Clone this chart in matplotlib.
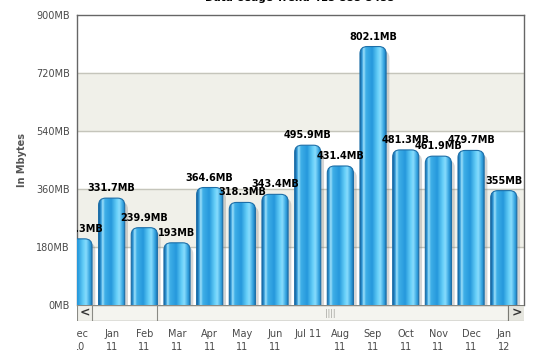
import matplotlib
matplotlib.use('Agg')
import matplotlib.pyplot as plt
import numpy as np
from matplotlib.patches import FancyBboxPatch, Rectangle
from matplotlib.colors import LinearSegmentedColormap
from matplotlib.transforms import Bbox, TransformedBbox

# Data
months = ["Dec\n10", "Jan\n11", "Feb\n11", "Mar\n11", "Apr\n11", "May\n11", "Jun\n11",
          "Jul 11", "Aug\n11", "Sep\n11", "Oct\n11", "Nov\n11", "Dec\n11", "Jan\n12"]
usage_mb = [205.3, 331.7, 239.9, 193, 364.6, 318.3, 343.4,
            495.9, 431.4, 802.1, 481.3, 461.9, 479.7, 355]
y_ticks = [0, 180, 360, 540, 720, 900]

title = "Data Usage Trend 415-555-5455"
text_gray = '#4a4a4a'

plt.rcParams['font.family'] = ['DejaVu Sans']

fig = plt.figure(figsize=(5.52, 3.51), dpi=100)
W, H = 552, 351
L, R, T, B = 77, 524, 15, 305
ax = fig.add_axes([L / W, 1 - B / H, (R - L) / W, (B - T) / H])

x = np.arange(len(months))
XLIM = (-0.06, len(months) - 1 + 0.62)
ax.set_xlim(*XLIM)
ax.set_ylim(0, 900)

# alternating bands
for i in range(len(y_ticks) - 1):
    if i % 2 == 1:
        ax.axhspan(y_ticks[i], y_ticks[i + 1], color='#f0f0e9', zorder=0)
for v in y_ticks[1:-1]:
    ax.axhline(v, color='#c5c5bb', lw=1, zorder=1)

# bars: geometry from ax.bar, rendered as glossy rounded cylinders
bars = ax.bar(x, usage_mb, width=0.8, color='none', edgecolor='none', zorder=2)

grad = LinearSegmentedColormap.from_list('glossy', [
    (0.0, '#1868a4'), (0.07, '#2f98d8'), (0.13, '#a4e4fc'), (0.21, '#40b0e8'),
    (0.45, '#2598dc'), (0.66, '#66cff8'), (0.76, '#88dcfd'), (0.9, '#30a0de'),
    (1.0, '#1a70ab')])
gradient = np.linspace(0, 1, 64).reshape(1, -1)

px_per_x = (R - L) / (XLIM[1] - XLIM[0])
px_per_y = (B - T) / 900.0
aspect = px_per_x / px_per_y

for bar in bars:
    x0, w, h = bar.get_x(), bar.get_width(), bar.get_height()
    # soft shadow to the right
    shadow = FancyBboxPatch((x0 + 0.1, -60), w, h + 60 - 4 / px_per_y,
                            boxstyle="round,pad=0,rounding_size=0.22",
                            mutation_aspect=aspect, facecolor='#777777',
                            edgecolor='none', alpha=0.3, zorder=2)
    ax.add_patch(shadow)
    shape = FancyBboxPatch((x0, -60), w, h + 60,
                           boxstyle="round,pad=0,rounding_size=0.22",
                           mutation_aspect=aspect, facecolor='none',
                           edgecolor='#1d6fa8', lw=0.8, zorder=4)
    ax.add_patch(shape)
    im = ax.imshow(gradient, cmap=grad, aspect='auto', extent=[x0, x0 + w, -60, h],
                   zorder=3, interpolation='bilinear')
    im.set_clip_path(shape)

ax.set_xlim(*XLIM)
ax.set_ylim(0, 900)

# value labels
for xi, v in zip(x, usage_mb):
    ax.text(xi, v + 5 / px_per_y, f"{v:g}MB", ha='center', va='bottom',
            fontsize=7, fontweight='bold', color='black', zorder=6, clip_on=True)

# axes styling
for s in ['top', 'right', 'left']:
    ax.spines[s].set_color('#666666')
    ax.spines[s].set_linewidth(1)
ax.spines['bottom'].set_visible(False)
ax.set_yticks(y_ticks)
ax.set_yticklabels([f"{v}MB" for v in y_ticks], fontsize=7, color=text_gray)
ax.set_xticks(x)
ax.set_xticklabels(months, fontsize=7, color=text_gray, va='top', linespacing=1.45)
ax.tick_params(axis='both', length=0)
ax.tick_params(axis='y', pad=5)
ax.tick_params(axis='x', pad=17)
clip = TransformedBbox(Bbox([[0, -1], [1, 1]]), ax.transAxes)
for lbl in ax.get_xticklabels():
    lbl.set_clip_box(clip)
    lbl.set_clip_on(True)

fig.text(22 / W, 1 - 160 / H, "In Mbytes", rotation=90, ha='center', va='center',
         fontsize=7, fontweight='bold', color='#555555')
fig.text(300 / W, 1.006, title, ha='center', va='center', fontsize=7.5,
         fontweight='bold', color='black')

# scrollbar
sb = fig.add_axes([L / W, 1 - 321 / H, (R - L) / W, 16 / H])
sb.axis('off')
sb.add_patch(Rectangle((0, 0), R - L, 16, facecolor='#f4f4ef', edgecolor='#8a8a84', lw=1))
thumb_grad = np.linspace(0, 1, 32).reshape(-1, 1)
tcmap = LinearSegmentedColormap.from_list('thumb', ['#b4b4ab', '#dcdcd4', '#f3f3ee', '#f7f7f3'])
sb.imshow(thumb_grad, cmap=tcmap, aspect='auto', extent=[80, 431, 0, 16], origin='lower')
sb.add_patch(Rectangle((80, 0), 351, 16, facecolor='none', edgecolor='#8a8a84', lw=0.8))
sb.add_patch(Rectangle((0, 0), 15, 16, facecolor='#efefe9', edgecolor='#8a8a84', lw=0.8))
sb.add_patch(Rectangle((431, 0), 17, 16, facecolor='#e6e6df', edgecolor='#7a7a74', lw=0.8))
sb.text(7.5, 8, "<", ha='center', va='center', fontsize=9, fontweight='bold', color='#333333')
sb.text(439.5, 8, ">", ha='center', va='center', fontsize=9, fontweight='bold', color='#333333')
sb.text(253, 8, "||||", ha='center', va='center', fontsize=5.5, color='#9a9a94')
sb.set_xlim(0, R - L)
sb.set_ylim(0, 16)

fig.savefig("out.png", dpi=100)
plt.close(fig)
